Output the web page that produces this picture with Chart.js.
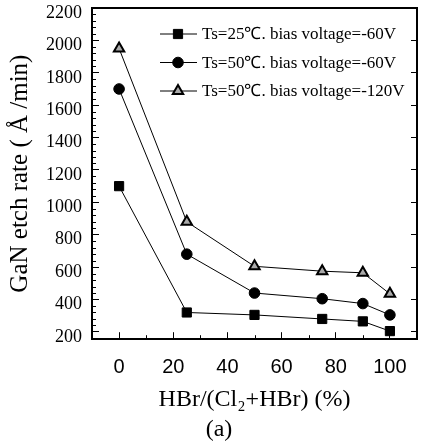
<!DOCTYPE html>
<html>
<head>
<meta charset="utf-8">
<script src="https://cdn.jsdelivr.net/npm/chart.js@4/dist/chart.umd.min.js"></script>
<style>
  html, body { margin: 0; padding: 0; background: #fff; }
  canvas { display: block; }
</style>
</head>
<body>
<canvas id="etchChart" width="425" height="448"></canvas>
<script>
const hbrRatio = [0, 25, 50, 75, 90, 100];
const rate25_60 = [1100, 320, 305, 280, 265, 205];
const rate50_60 = [1700, 680, 440, 405, 375, 305];
const rate50_120 = [1950, 880, 605, 575, 565, 435];
const seriesLabels = [
    'Ts=25℃. bias voltage=-60V',
    'Ts=50℃. bias voltage=-60V',
    'Ts=50℃. bias voltage=-120V'
];
const xTickValues = [0, 20, 40, 60, 80, 100];
const xMinorTicks = [10, 30, 50, 70, 90];
const yTickValues = [200, 400, 600, 800, 1000, 1200, 1400, 1600, 1800, 2000, 2200];

const serif = "'Liberation Serif', 'Times New Roman', serif";
const sans = "'Liberation Sans', Arial, sans-serif";

function toPoints(values) {
    return values.map((v, i) => ({ x: hbrRatio[i], y: v }));
}

function setTicks(list) {
    return scale => { scale.ticks = list.map(v => ({ value: v })); };
}

// fixed box sizes, no extra room for overhanging labels
function fixSize(w, h) {
    return scale => {
        if (w !== null) scale.width = w;
        if (h !== null) scale.height = h;
        scale.paddingTop = 0;
        scale.paddingBottom = 0;
        scale.paddingLeft = 0;
        scale.paddingRight = 0;
    };
}

// minor ticks, drawn inward from the scales
const minorTicks = {
    id: 'minorTicks',
    afterDraw(chart) {
        const ctx = chart.ctx;
        const area = chart.chartArea;
        const y = chart.scales.y;
        const x = chart.scales.x;
        ctx.save();
        ctx.strokeStyle = '#000';
        ctx.lineWidth = 1;
        ctx.beginPath();
        for (let v = 240; v < 2200; v += 40) {
            if (v % 200 === 0) continue;
            const py = Math.round(y.getPixelForValue(v)) + 0.5;
            ctx.moveTo(area.left, py);
            ctx.lineTo(area.left + 4, py);
        }
        xMinorTicks.forEach(v => {
            const px = Math.round(x.getPixelForValue(v)) + 0.5;
            ctx.moveTo(px, area.bottom);
            ctx.lineTo(px, area.bottom - 4);
        });
        ctx.stroke();
        ctx.restore();
    }
};

// legend placed inside the plot, line + marker + text
const insideLegend = {
    id: 'insideLegend',
    afterDatasetsDraw(chart) {
        const ctx = chart.ctx;
        const area = chart.chartArea;
        ctx.save();
        chart.data.datasets.forEach((ds, i) => {
            const y = area.top + 26 + i * 28.5;
            const x0 = area.left + 68;
            ctx.strokeStyle = '#000';
            ctx.lineWidth = 1;
            ctx.beginPath();
            ctx.moveTo(x0, y);
            ctx.lineTo(x0 + 37, y);
            ctx.stroke();
            ctx.fillStyle = ds.pointBackgroundColor;
            ctx.strokeStyle = ds.pointBorderColor;
            ctx.lineWidth = ds.pointBorderWidth;
            Chart.helpers.drawPoint(ctx, {
                pointStyle: ds.pointStyle,
                radius: ds.pointRadius,
                borderWidth: ds.pointBorderWidth,
                rotation: 0
            }, x0 + 18, y);
            ctx.fillStyle = '#000';
            ctx.font = '17px ' + serif;
            ctx.textBaseline = 'middle';
            ctx.textAlign = 'left';
            ctx.fillText(ds.label, x0 + 42, y + 1);
        });
        ctx.restore();
    }
};

const ctx = document.getElementById('etchChart').getContext('2d');

new Chart(ctx, {
    type: 'line',
    data: {
        datasets: [
            {
                label: seriesLabels[0],
                data: toPoints(rate25_60),
                borderColor: '#000',
                borderWidth: 1,
                pointStyle: 'rect',
                pointRadius: 6.5,
                pointBorderWidth: 1,
                pointBackgroundColor: '#000',
                pointBorderColor: '#000'
            },
            {
                label: seriesLabels[1],
                data: toPoints(rate50_60),
                borderColor: '#000',
                borderWidth: 1,
                pointStyle: 'circle',
                pointRadius: 5.3,
                pointBorderWidth: 1,
                pointBackgroundColor: '#000',
                pointBorderColor: '#000'
            },
            {
                label: seriesLabels[2],
                data: toPoints(rate50_120),
                borderColor: '#000',
                borderWidth: 1,
                pointStyle: 'triangle',
                pointRadius: 6,
                pointBorderWidth: 2,
                pointBackgroundColor: '#aaa',
                pointBorderColor: '#000'
            }
        ]
    },
    options: {
        responsive: false,
        animation: false,
        layout: { padding: { top: 6, right: -1, left: 12, bottom: 0 } },
        plugins: {
            legend: { display: false },
            tooltip: { enabled: false },
            title: {
                display: true,
                position: 'bottom',
                text: '(a)',
                color: '#000',
                font: { family: serif, size: 24, weight: 'normal' },
                padding: { top: 0, bottom: 4 }
            }
        },
        scales: {
            x: {
                type: 'linear',
                position: 'bottom',
                min: -10,
                max: 110,
                afterBuildTicks: setTicks(xTickValues),
                afterFit: fixSize(null, 76),
                grid: { drawOnChartArea: false, drawTicks: true, tickLength: -7, tickColor: '#000', tickWidth: 1 },
                border: { display: true, color: '#000', width: 2 },
                ticks: {
                    color: '#000',
                    padding: 23,
                    maxRotation: 0,
                    font: { family: sans, size: 20 },
                    callback: v => String(v)
                },
                title: {
                    display: true,
                    text: 'HBr/(Cl₂+HBr) (%)',
                    color: '#000',
                    font: { family: serif, size: 24 },
                    padding: { top: 0, bottom: 1 }
                }
            },
            x2: {
                type: 'linear',
                position: 'top',
                min: -10,
                max: 110,
                afterFit: fixSize(null, 0),
                grid: { display: false },
                border: { display: true, color: '#000', width: 2 },
                ticks: { display: false }
            },
            y: {
                type: 'linear',
                position: 'left',
                min: 155,
                max: 2200,
                afterBuildTicks: setTicks(yTickValues),
                afterFit: fixSize(80, null),
                grid: { drawOnChartArea: false, drawTicks: true, tickLength: -7, tickColor: '#000', tickWidth: 1 },
                border: { display: true, color: '#000', width: 2 },
                ticks: {
                    color: '#000',
                    padding: 17,
                    labelOffset: 5,
                    font: { family: serif, size: 18 },
                    callback: v => String(v)
                },
                title: {
                    display: true,
                    text: 'GaN etch rate ( Å /min)',
                    color: '#000',
                    font: { family: serif, size: 25 },
                    padding: { top: -7, bottom: 0 }
                }
            },
            y2: {
                type: 'linear',
                position: 'right',
                min: 155,
                max: 2200,
                afterBuildTicks: setTicks(yTickValues),
                afterFit: fixSize(0, null),
                grid: { drawOnChartArea: false, drawTicks: true, tickLength: -6, tickColor: '#000', tickWidth: 1 },
                border: { display: true, color: '#000', width: 2 },
                ticks: { display: false }
            }
        }
    },
    plugins: [minorTicks, insideLegend]
});
</script>
</body>
</html>
